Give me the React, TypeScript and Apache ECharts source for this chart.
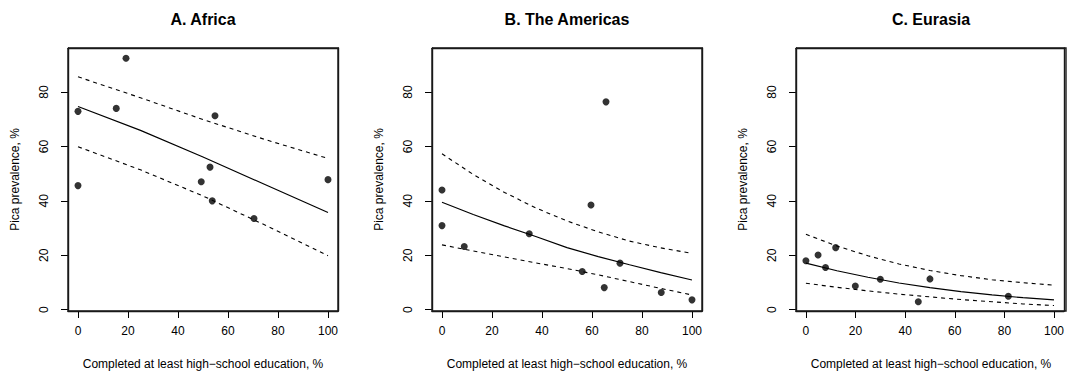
import React, { useEffect, useRef } from "react";
import * as echarts from "echarts";

const FONT = "'Liberation Sans', Arial, Helvetica, sans-serif";

const panelTitles = ["A. Africa", "B. The Americas", "C. Eurasia"];
const xName = "Completed at least high\u2212school education, %";
const yName = "Pica prevalence, %";

const xTicks = [0, 20, 40, 60, 80, 100];
const yTicks = [0, 20, 40, 60, 80];

// A. Africa
const africaEdu = [0, 0, 19.2, 15.3, 54.8, 52.8, 49.3, 53.7, 70.4, 100];
const africaPica = [72.9, 45.6, 92.4, 74.0, 71.3, 52.4, 47.0, 40.0, 33.5, 47.8];
const africaFitX = [0, 25, 50, 75, 100];
const africaFit = [74.7, 65.9, 56.1, 45.9, 35.7];
const africaUpper = [85.6, 77.9, 69.9, 62.5, 55.6];
const africaLower = [59.9, 51.4, 41.8, 31.0, 19.8];

// B. The Americas
const americasEdu = [0, 0, 8.9, 34.9, 56.1, 59.6, 65.6, 64.9, 71.2, 87.7, 100];
const americasPica = [44.0, 30.9, 23.2, 27.9, 14.0, 38.5, 76.4, 8.1, 17.1, 6.3, 3.6];
const americasFitX = [0, 12.5, 25, 37.5, 50, 62.5, 75, 87.5, 100];
const americasFit = [39.5, 35.0, 30.8, 26.9, 22.8, 19.5, 16.5, 13.6, 10.9];
const americasUpper = [57.3, 49.7, 43.1, 37.4, 32.6, 28.6, 25.2, 22.7, 20.7];
const americasLower = [23.8, 21.6, 19.4, 17.2, 15.1, 12.8, 10.3, 7.8, 5.4];

// C. Eurasia
const eurasiaEdu = [0, 4.9, 12.0, 7.9, 19.9, 30, 45.3, 50, 81.6];
const eurasiaPica = [18.0, 20.1, 22.8, 15.5, 8.7, 11.2, 2.9, 11.3, 4.9];
const eurasiaFitX = [0, 12.5, 25, 37.5, 50, 62.5, 75, 87.5, 100];
const eurasiaFit = [17.1, 14.3, 11.9, 9.8, 8.1, 6.6, 5.4, 4.4, 3.6];
const eurasiaUpper = [27.7, 23.4, 19.8, 16.8, 14.4, 12.5, 11.0, 9.9, 9.0];
const eurasiaLower = [9.7, 8.2, 6.9, 5.7, 4.7, 3.7, 2.9, 2.1, 1.5];

const panels = [
  { edu: africaEdu, pica: africaPica, fx: africaFitX, fit: africaFit, up: africaUpper, lo: africaLower },
  { edu: americasEdu, pica: americasPica, fx: americasFitX, fit: americasFit, up: americasUpper, lo: americasLower },
  { edu: eurasiaEdu, pica: eurasiaPica, fx: eurasiaFitX, fit: eurasiaFit, up: eurasiaUpper, lo: eurasiaLower },
];

const zip = (a: number[], b: number[]) => a.map((v, i) => [v, b[i]]);

export default function App() {
  const ref = useRef<HTMLDivElement>(null);

  useEffect(() => {
    if (!ref.current) return;
    const chart = echarts.init(ref.current, null, { renderer: "svg" });

    const gridLefts = [68, 432, 796];
    const gridTop = 48;
    const gridW = 270;
    const gridH = 263;
    const X_MIN = -4;
    const X_MAX = 104;
    const Y_MIN = -0.5;
    const Y_MAX = 96.2;

    const grid = gridLefts.map((l) => ({
      left: l,
      top: gridTop,
      width: gridW,
      height: gridH,
      show: false,
    }));

    const mkLine = () => ({ show: true, onZero: false, lineStyle: { color: "#1a1a1a", width: 1.4 } });

    const xAxis: any[] = [];
    const yAxis: any[] = [];
    gridLefts.forEach((_, i) => {
      xAxis.push({
        gridIndex: i,
        type: "value",
        position: "bottom",
        min: X_MIN,
        max: X_MAX,
        axisLine: mkLine(),
        splitLine: { show: false },
        axisTick: { show: true, customValues: xTicks, length: 7, lineStyle: { color: "#000", width: 1 } },
        axisLabel: { customValues: xTicks, margin: 14, fontSize: 12, color: "#000", fontFamily: FONT },
      });
      yAxis.push({
        gridIndex: i,
        type: "value",
        position: "left",
        min: Y_MIN,
        max: Y_MAX,
        axisLine: mkLine(),
        splitLine: { show: false },
        axisTick: { show: true, customValues: yTicks, length: 7, lineStyle: { color: "#000", width: 1 } },
        axisLabel: { customValues: yTicks, margin: 18, rotate: 90, fontSize: 12, color: "#000", fontFamily: FONT },
      });
    });
    gridLefts.forEach((_, i) => {
      xAxis.push({
        gridIndex: i,
        type: "value",
        position: "top",
        min: X_MIN,
        max: X_MAX,
        axisLine: mkLine(),
        splitLine: { show: false },
        axisTick: { show: false },
        axisLabel: { show: false },
      });
      yAxis.push({
        gridIndex: i,
        type: "value",
        position: "right",
        min: Y_MIN,
        max: Y_MAX,
        axisLine: mkLine(),
        splitLine: { show: false },
        axisTick: { show: false },
        axisLabel: { show: false },
      });
    });

    const series: any[] = [];
    panels.forEach((p, i) => {
      series.push({
        type: "scatter",
        xAxisIndex: i,
        yAxisIndex: i,
        data: zip(p.edu, p.pica),
        symbol: "circle",
        symbolSize: 7,
        itemStyle: { color: "#000" },
        z: 3,
      });
      const lineCommon = {
        type: "line",
        xAxisIndex: i,
        yAxisIndex: i,
        showSymbol: false,
        symbol: "none",
        smooth: false,
        z: 2,
      };
      series.push({ ...lineCommon, data: zip(p.fx, p.fit), lineStyle: { color: "#000", width: 1.2, type: "solid" } });
      series.push({ ...lineCommon, data: zip(p.fx, p.up), lineStyle: { color: "#000", width: 1.1, type: [4, 4] } });
      series.push({ ...lineCommon, data: zip(p.fx, p.lo), lineStyle: { color: "#000", width: 1.1, type: [4, 4] } });
    });

    const graphic: any[] = [];
    gridLefts.forEach((l, i) => {
      const cx = l + gridW / 2;
      graphic.push({
        type: "polyline",
        shape: {
          points: [
            [l, gridTop],
            [l + gridW, gridTop],
            [l + gridW, gridTop + gridH],
            [l, gridTop + gridH],
            [l, gridTop],
          ],
        },
        style: { stroke: "#1a1a1a", lineWidth: 1.4, fill: null },
        silent: true,
        z: 50,
      });
      graphic.push({
        type: "text",
        x: cx,
        y: 19,
        style: {
          text: panelTitles[i],
          fontSize: 16,
          fontWeight: "bold",
          fontFamily: FONT,
          fill: "#000",
          textAlign: "center",
          textVerticalAlign: "middle",
        },
      });
      graphic.push({
        type: "text",
        x: cx,
        y: 364,
        style: {
          text: xName,
          fontSize: 12,
          fontFamily: FONT,
          fill: "#000",
          textAlign: "center",
          textVerticalAlign: "middle",
        },
      });
      graphic.push({
        type: "text",
        x: l - 53,
        y: gridTop + gridH / 2,
        rotation: Math.PI / 2,
        style: {
          text: yName,
          fontSize: 12,
          fontFamily: FONT,
          fill: "#000",
          textAlign: "center",
          textVerticalAlign: "middle",
        },
      });
    });

    chart.setOption({
      animation: false,
      backgroundColor: "#fff",
      grid,
      xAxis,
      yAxis,
      series,
      graphic,
    } as any);

    return () => chart.dispose();
  }, []);

  return (
    <div
      ref={ref}
      style={{ position: "absolute", left: 0, top: 0, width: 1067, height: 371 }}
    />
  );
}
